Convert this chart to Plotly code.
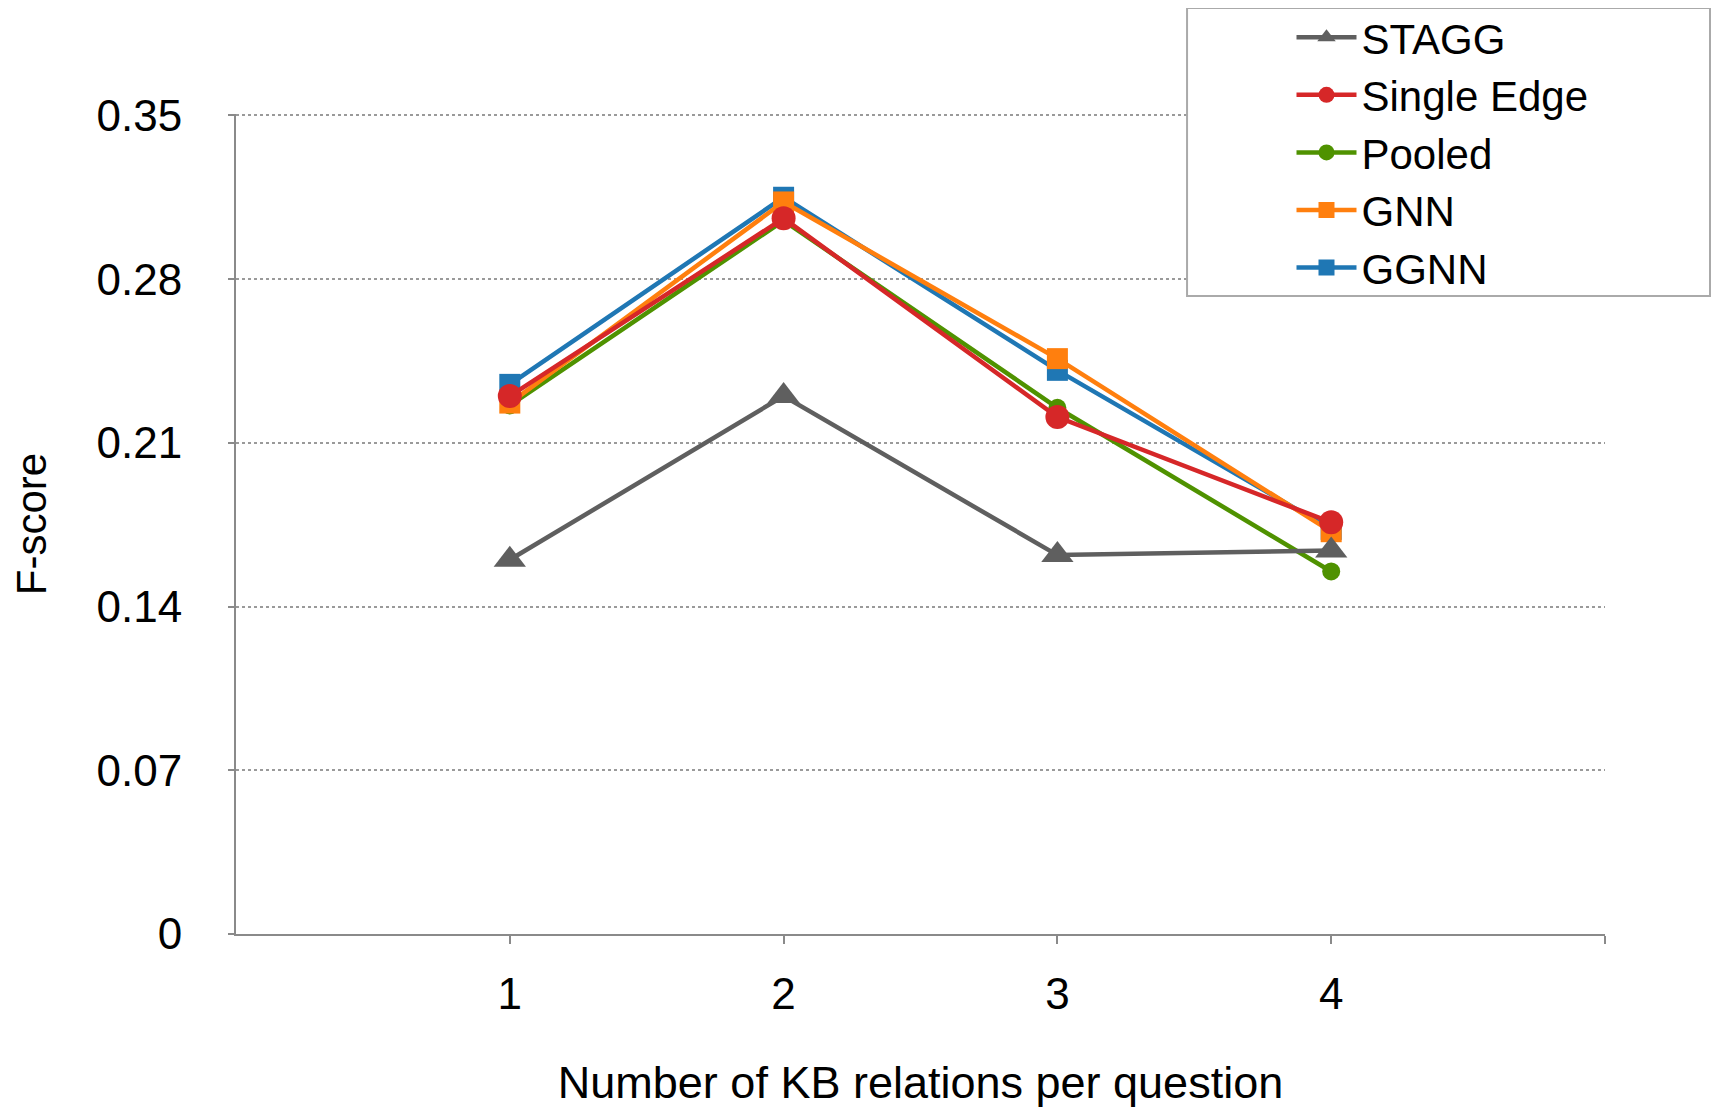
import plotly.graph_objects as go

x_vals = [1, 2, 3, 4]
x_tick_vals = [1, 2, 3, 4, 5]
x_tick_text = ["1", "2", "3", "4", ""]
y_tick_vals = [0, 0.07, 0.14, 0.21, 0.28, 0.35]
y_tick_text = ["0", "0.07", "0.14", "0.21", "0.28", "0.35"]

stagg = [0.160, 0.230, 0.162, 0.164]
single_edge = [0.230, 0.306, 0.221, 0.176]
pooled = [0.226, 0.305, 0.225, 0.155]
gnn = [0.227, 0.313, 0.246, 0.172]
ggnn = [0.235, 0.315, 0.241, 0.173]

FONT = "Liberation Sans"

series = [
    # name, values, color, symbol, size, legendrank
    ("Pooled", pooled, "#4f9200", "circle", 18, 3),
    ("GGNN", ggnn, "#1f77b4", "square", 21, 5),
    ("GNN", gnn, "#ff7f0e", "square", 21, 4),
    ("Single Edge", single_edge, "#d62728", "circle", 24, 2),
    ("STAGG", stagg, "#5f5f5f", "triangle-up", 28, 1),
]

fig = go.Figure()
for name, vals, color, symbol, size, rank in series:
    fig.add_trace(go.Scatter(
        x=x_vals, y=vals, name=name, mode="lines+markers",
        line=dict(color=color, width=4.5),
        marker=dict(color=color, symbol=symbol, size=size, line=dict(width=0)),
        legendrank=rank,
    ))

# page body has an 8px default margin; compensate so the plot lands in place
W, H = 1711, 1100
ML, MR, MT, MB = 228, 114, 106, 174

# legend frame drawn as an opaque shape (paper coords), covering gridlines
fig.add_shape(type="rect", xref="paper", yref="paper", layer="above",
              x0=0.6947, x1=1.0767, y0=0.778, y1=1.1293,
              line=dict(color="#aaaaaa", width=2), fillcolor="white")

fig.update_layout(
    width=W, height=H,
    paper_bgcolor="white", plot_bgcolor="white",
    margin=dict(l=ML, r=MR, t=MT, b=MB, autoexpand=False),
    font=dict(family=FONT, size=44, color="black"),
    legend=dict(
        x=0.771, y=1.1349, xanchor="left", yanchor="top",
        borderwidth=0, bgcolor="rgba(0,0,0,0)",
        font=dict(size=42), itemwidth=60,
        tracegroupgap=0,
    ),
    showlegend=True,
)

fig.update_xaxes(
    range=[0, 5], tickvals=x_tick_vals, ticktext=x_tick_text,
    showline=True, linecolor="#8a8a8a", linewidth=2,
    ticks="outside", ticklen=8, tickcolor="#8a8a8a", tickwidth=1.5,
    showgrid=False, zeroline=False,
    tickfont=dict(size=44), ticklabelstandoff=12,
    title=dict(text="Number of KB relations per question", font=dict(size=45), standoff=51),
)
fig.update_yaxes(
    range=[0, 0.3506], tickvals=y_tick_vals, ticktext=y_tick_text,
    showline=True, linecolor="#8a8a8a", linewidth=2,
    ticks="outside", ticklen=6, tickcolor="#8a8a8a", tickwidth=1.5,
    showgrid=True, gridcolor="#9a9a9a", gridwidth=2, griddash="dot",
    zeroline=False,
    tickfont=dict(size=44), ticklabelstandoff=37,
    title=dict(text="F-score", font=dict(size=42), standoff=40),
)

fig.write_html("out.html")
